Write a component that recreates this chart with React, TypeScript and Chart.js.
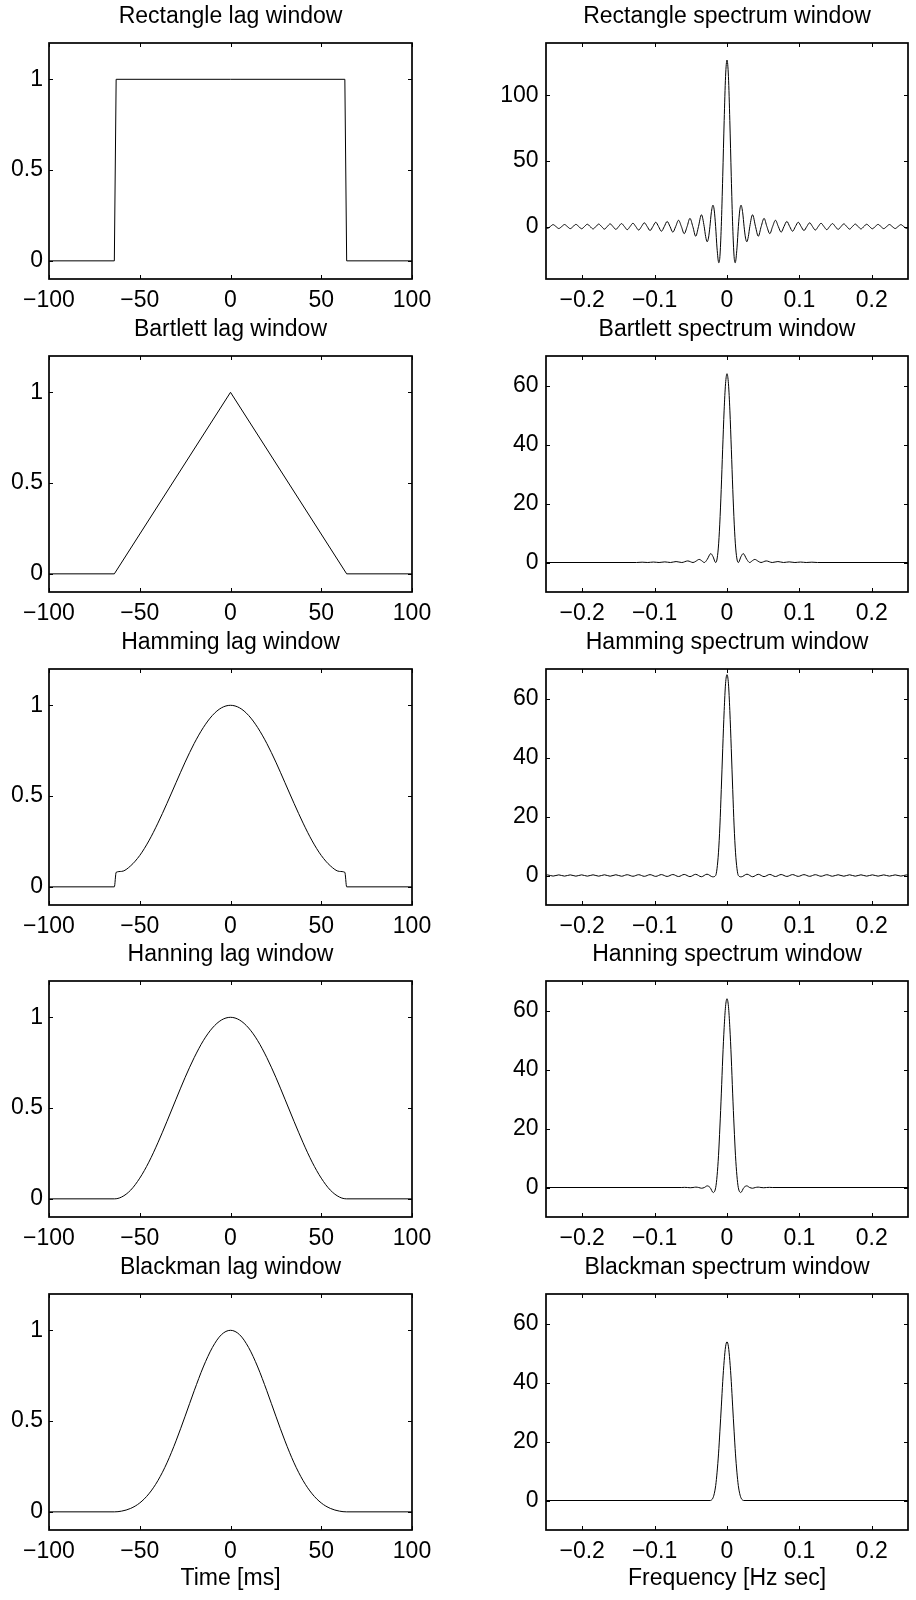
import React, { useEffect, useRef } from "react";
import { Chart, registerables } from "chart.js";

Chart.register(...registerables);

const FONT = '"Liberation Sans", Arial, Helvetica, sans-serif';

// ---------- data (x >= 0 half; windows are symmetric and mirrored) ----------
// Lag windows, lag in ms
const rectLagX = [0, 63, 64, 100];
const rectLagY = [1, 1, 0, 0];

const bartLagX = [0, 64, 100];
const bartLagY = [1, 0, 0];

const hammLagX = [0, 5, 10, 15, 20, 25, 30, 35, 40, 45, 50, 55, 60, 63, 64, 100];
const hammLagY = [1, 0.986, 0.944, 0.877, 0.79, 0.687, 0.574, 0.46, 0.351, 0.253, 0.173, 0.116, 0.085, 0.08, 0, 0];

const hannLagX = [0, 5, 10, 15, 20, 25, 30, 35, 40, 45, 50, 55, 60, 64, 100];
const hannLagY = [1, 0.985, 0.941, 0.871, 0.778, 0.669, 0.549, 0.427, 0.309, 0.202, 0.114, 0.048, 0.01, 0, 0];

const blackLagX = [0, 5, 10, 15, 20, 25, 30, 35, 40, 45, 50, 55, 60, 64, 100];
const blackLagY = [1, 0.976, 0.905, 0.798, 0.667, 0.527, 0.391, 0.27, 0.172, 0.099, 0.049, 0.019, 0.004, 0, 0];

// Spectrum windows, frequency in Hz sec
const rectSpecF = [
  0, 0.002, 0.0039, 0.0059, 0.0079, 0.0098, 0.0113, 0.0138, 0.0157, 0.0177, 0.0194, 0.0217, 0.0236,
  0.0256, 0.0274, 0.0295, 0.0315, 0.0353, 0.0394, 0.0432, 0.0472, 0.0512, 0.0551, 0.0591, 0.063,
  0.0669, 0.0709, 0.0748, 0.0787, 0.0827, 0.0866, 0.0906, 0.0945, 0.0984, 0.1024, 0.1063, 0.1102,
  0.1142, 0.1181, 0.122, 0.126, 0.1299, 0.1339, 0.1378, 0.1417, 0.1457, 0.1496, 0.1535, 0.1575,
  0.1614, 0.1654, 0.1693, 0.1732, 0.1772, 0.1811, 0.185, 0.189, 0.1929, 0.1969, 0.2008, 0.2047,
  0.2087, 0.2126, 0.2165, 0.2205, 0.2244, 0.2283, 0.2323, 0.2362, 0.2402, 0.2441, 0.248, 0.25,
];
const rectSpecV = [
  127, 114.3, 80.9, 38.1, 0, -22.9, -27.6, -16.3, 0, 12.7, 16.3, 10.4, 0,
  -8.8, -11.6, -7.6, 0, 9.0, 0, -7.4, 0, 6.25, 0, -5.4, 0,
  4.8, 0, -4.3, 0, 3.9, 0, -3.56, 0, 3.29, 0, -3.05, 0,
  2.85, 0, -2.67, 0, 2.52, 0, -2.38, 0, 2.26, 0, -2.16, 0,
  2.06, 0, -1.97, 0, 1.89, 0, -1.82, 0, 1.75, 0, -1.69, 0,
  1.64, 0, -1.59, 0, 1.54, 0, -1.5, 0, 1.46, 0, -1.42, -1.0,
];

const bartSpecF = [
  0, 0.002, 0.004, 0.006, 0.008, 0.01, 0.012, 0.014, 0.0156, 0.0195, 0.0224, 0.0273, 0.0313, 0.0352,
  0.0384, 0.043, 0.0469, 0.0542, 0.0625, 0.0703, 0.0781, 0.0859, 0.0938, 0.1016, 0.1094, 0.1172, 0.125, 0.25,
];
const bartSpecV = [
  64, 60.6, 51.4, 38.4, 24.7, 13.0, 4.9, 0.84, 0, 2.08, 3.02, 1.06, 0, 0.64,
  1.05, 0.43, 0, 0.53, 0, 0.32, 0, 0.21, 0, 0.15, 0, 0.11, 0, 0,
];

const hammSpecF = [
  0, 0.002, 0.0039, 0.0059, 0.0079, 0.0098, 0.0118, 0.0138, 0.0157, 0.0197, 0.0276, 0.0354, 0.0433,
  0.0512, 0.0591, 0.0669, 0.0748, 0.0827, 0.0906, 0.0984, 0.1063, 0.1142, 0.122, 0.1299, 0.1378,
  0.1457, 0.1535, 0.1614, 0.1693, 0.1772, 0.185, 0.1929, 0.2008, 0.2087, 0.2165, 0.2244, 0.2323,
  0.2402, 0.248, 0.25,
];
const hammSpecV = [
  68.1, 65.0, 55.9, 43.0, 29.1, 16.8, 7.7, 2.3, 0, -0.45, 0.45, -0.42, 0.4,
  -0.38, 0.36, -0.35, 0.33, -0.32, 0.31, -0.3, 0.29, -0.28, 0.27, -0.26, 0.26,
  -0.25, 0.25, -0.24, 0.24, -0.23, 0.23, -0.22, 0.22, -0.22, 0.21, -0.21, 0.21,
  -0.2, 0.2, 0.1,
];

const hannSpecF = [
  0, 0.002, 0.0039, 0.0059, 0.0078, 0.0098, 0.0117, 0.0137, 0.0156, 0.019, 0.0234, 0.0273, 0.0313,
  0.0352, 0.0391, 0.043, 0.0469, 0.0508, 0.0547, 0.0586, 0.0625, 0.25,
];
const hannSpecV = [
  64, 61.4, 54.3, 43.9, 32.0, 20.5, 10.9, 4.0, 0, -1.7, 0, 0.55, 0,
  -0.25, 0, 0.13, 0, -0.08, 0, 0.05, 0, 0,
];

const blackSpecF = [0, 0.002, 0.0039, 0.0059, 0.0078, 0.0098, 0.0117, 0.0137, 0.0156, 0.0176, 0.0195, 0.0215, 0.0234, 0.25];
const blackSpecV = [53.8, 52.1, 47.4, 40.3, 32.0, 23.5, 15.8, 9.6, 5.1, 2.3, 0.8, 0.15, 0, 0];

// ticks
const lagXTicks = [-100, -50, 0, 50, 100];
const lagYTicks = [0, 0.5, 1];
const specXTicks = [-0.2, -0.1, 0, 0.1, 0.2];
const rectSpecYTicks = [0, 50, 100];
const specYTicks = [0, 20, 40, 60];

const windowNames = ["Rectangle", "Bartlett", "Hamming", "Hanning", "Blackman"];

// ---------- helpers ----------
type Pt = { x: number; y: number };
function mirror(xs: number[], ys: number[]): Pt[] {
  const pts: Pt[] = [];
  for (let i = xs.length - 1; i >= 1; i--) pts.push({ x: -xs[i], y: ys[i] });
  for (let i = 0; i < xs.length; i++) pts.push({ x: xs[i], y: ys[i] });
  return pts;
}

function fmt(v: number | string): string {
  const n = typeof v === "string" ? parseFloat(v) : v;
  const s = String(Math.round(n * 1000) / 1000);
  return s.replace("-", "\u2212");
}

const framePlugin = {
  id: "matlabFrame",
  afterDraw(chart: any) {
    const { ctx, chartArea } = chart;
    const { left, top, right, bottom } = chartArea;
    const xs = chart.scales.x;
    const ys = chart.scales.y;
    ctx.save();
    ctx.strokeStyle = "#000";
    ctx.lineWidth = 1;
    const tl = 4;
    ctx.beginPath();
    xs.ticks.forEach((t: any) => {
      const p = Math.round(xs.getPixelForValue(t.value)) + 0.5;
      ctx.moveTo(p, bottom);
      ctx.lineTo(p, bottom - tl);
      ctx.moveTo(p, top);
      ctx.lineTo(p, top + tl);
    });
    ys.ticks.forEach((t: any) => {
      const p = Math.round(ys.getPixelForValue(t.value)) + 0.5;
      ctx.moveTo(left, p);
      ctx.lineTo(left + tl, p);
      ctx.moveTo(right, p);
      ctx.lineTo(right - tl, p);
    });
    ctx.stroke();
    ctx.lineWidth = 1.7;
    ctx.strokeRect(left, top, right - left, bottom - top);
    ctx.restore();
  },
};

type PanelProps = {
  title: string;
  left: number;
  top: number;
  width: number;
  height: number;
  points: Pt[];
  smooth: boolean;
  xMin: number;
  xMax: number;
  yMin: number;
  yMax: number;
  xTicks: number[];
  yTicks: number[];
  yAxisWidth: number;
  yPad: number;
  padRight: number;
  xAxisHeight: number;
  xTitle?: string;
};

function Panel(p: PanelProps) {
  const ref = useRef<HTMLCanvasElement | null>(null);
  useEffect(() => {
    if (!ref.current) return;
    const chart = new Chart(ref.current, {
      type: "line",
      data: {
        datasets: [
          {
            data: p.points,
            borderColor: "#000",
            borderWidth: 1,
            pointRadius: 0,
            fill: false,
            tension: 0,
            cubicInterpolationMode: p.smooth ? "monotone" : "default",
          } as any,
        ],
      },
      options: {
        responsive: false,
        animation: false,
        devicePixelRatio: 1,
        events: [],
        layout: { padding: { left: 0, right: p.padRight, top: 0, bottom: 0 } },
        plugins: {
          legend: { display: false },
          tooltip: { enabled: false },
          title: {
            display: true,
            fullSize: false,
            text: p.title,
            color: "#000",
            font: { family: FONT, size: 23, weight: "normal", lineHeight: 1 },
            padding: { top: 2, bottom: 15 },
          },
        },
        scales: {
          x: {
            type: "linear",
            position: "bottom",
            min: p.xMin,
            max: p.xMax,
            grid: { display: false, drawTicks: false, tickLength: 0 },
            border: { display: false },
            ticks: {
              color: "#000",
              font: { family: FONT, size: 23 },
              padding: 8,
              autoSkip: false,
              maxRotation: 0,
              callback: (v: any) => fmt(v),
            },
            afterBuildTicks: (s: any) => {
              s.ticks = p.xTicks.map((v) => ({ value: v }));
            },
            afterFit: (s: any) => {
              s.height = p.xAxisHeight;
            },
            title: p.xTitle
              ? {
                  display: true,
                  text: p.xTitle,
                  color: "#000",
                  font: { family: FONT, size: 23 },
                  padding: { top: 0, bottom: 8 },
                }
              : { display: false },
          },
          y: {
            type: "linear",
            position: "left",
            min: p.yMin,
            max: p.yMax,
            grid: { display: false, drawTicks: false, tickLength: 0 },
            border: { display: false },
            ticks: {
              color: "#000",
              font: { family: FONT, size: 23 },
              padding: p.yPad,
              autoSkip: false,
              callback: (v: any) => fmt(v),
            },
            afterBuildTicks: (s: any) => {
              s.ticks = p.yTicks.map((v) => ({ value: v }));
            },
            afterFit: (s: any) => {
              s.width = p.yAxisWidth;
            },
          },
        },
      } as any,
      plugins: [framePlugin],
    });
    return () => chart.destroy();
  }, []);
  return (
    <canvas
      ref={ref}
      width={p.width}
      height={p.height}
      style={{ position: "absolute", left: p.left, top: p.top, width: p.width, height: p.height }}
    />
  );
}

const lagSeries = [
  mirror(rectLagX, rectLagY),
  mirror(bartLagX, bartLagY),
  mirror(hammLagX, hammLagY),
  mirror(hannLagX, hannLagY),
  mirror(blackLagX, blackLagY),
];
const specSeries = [
  mirror(rectSpecF, rectSpecV),
  mirror(bartSpecF, bartSpecV),
  mirror(hammSpecF, hammSpecV),
  mirror(hannSpecF, hannSpecV),
  mirror(blackSpecF, blackSpecV),
];

export default function App() {
  const rowTops = [43, 356, 669, 981, 1294];
  const plotH = 236;
  const titleH = 40;
  return (
    <div style={{ position: "absolute", left: 0, top: 0, width: 916, height: 1600, background: "#fff" }}>
      {windowNames.map((name, i) => {
        const last = i === windowNames.length - 1;
        const xAxisH = last ? 70 : 36;
        const h = titleH + plotH + xAxisH;
        const top = rowTops[i] - titleH;
        return (
          <React.Fragment key={name}>
            <Panel
              title={`${name} lag window`}
              left={0}
              top={top}
              width={458}
              height={h}
              points={lagSeries[i]}
              smooth={i >= 2}
              xMin={-100}
              xMax={100}
              yMin={-0.1}
              yMax={1.2}
              xTicks={lagXTicks}
              yTicks={lagYTicks}
              yAxisWidth={49}
              yPad={6}
              padRight={46}
              xAxisHeight={xAxisH}
              xTitle={last ? "Time [ms]" : undefined}
            />
            <Panel
              title={`${name} spectrum window`}
              left={458}
              top={top}
              width={458}
              height={h}
              points={specSeries[i]}
              smooth={true}
              xMin={-0.25}
              xMax={0.25}
              yMin={i === 0 ? -40 : -10}
              yMax={i === 0 ? 140 : 70}
              xTicks={specXTicks}
              yTicks={i === 0 ? rectSpecYTicks : specYTicks}
              yAxisWidth={88}
              yPad={7.5}
              padRight={8}
              xAxisHeight={xAxisH}
              xTitle={last ? "Frequency [Hz sec]" : undefined}
            />
          </React.Fragment>
        );
      })}
    </div>
  );
}
